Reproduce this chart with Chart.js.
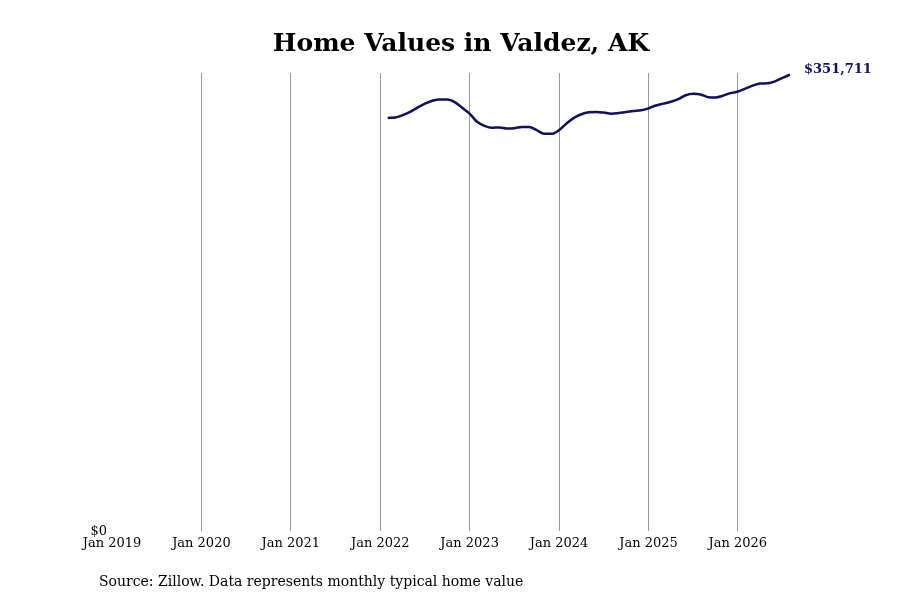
<!DOCTYPE html><html><head><script src="https://cdn.jsdelivr.net/npm/chart.js@4"></script>
<style>body{margin:0;background:#fff}#w{width:900px;height:600px}</style></head><body><div id="w"><canvas id="c"></canvas></div>
<script>
const months=[37,38,39,40,41,42,43,44,45,46,47,48,49,50,51,52,53,54,55,56,57,58,59,60,61,62,63,64,65,66,67,68,69,70,71,72,73,74,75,76,77,78,79,80,81,82,83,84,85,86,87,88,89,90,91];
const values=[318400,318700,320500,323000,326300,329400,331600,332600,332600,330600,326300,321700,315400,312300,310800,311100,310300,310500,311500,311500,309000,306200,306200,309000,314100,318400,321200,322700,323000,322500,321700,322200,323000,323700,324300,325800,328000,329400,330900,332900,335900,337000,336500,334400,334200,335500,337500,338700,341000,343300,344900,345100,346600,349200,351711];
const yearLabels=['Jan 2019','Jan 2020','Jan 2021','Jan 2022','Jan 2023','Jan 2024','Jan 2025','Jan 2026'];
const title='Home Values in Valdez, AK';
const source='Source: Zillow. Data represents monthly typical home value';
const pts=months.map((m,i)=>({x:m,y:values[i]}));
const txt={id:'txt',afterDraw(c){const g=c.ctx,a=c.chartArea,y=c.scales.y,x=c.scales.x;g.save();
g.fillStyle='#000';g.font='bold 25px "DejaVu Serif"';g.textAlign='center';g.textBaseline='middle';g.fillText(title,461,44);
g.font='14px "DejaVu Serif"';g.textAlign='left';g.fillText(source,99,582);
g.font='13px "DejaVu Serif"';g.textAlign='right';g.fillText('$0',a.left-5,y.getPixelForValue(0));
const l=values.length-1;g.fillStyle='#10105e';g.font='bold 13px "DejaVu Serif"';g.textAlign='left';
g.fillText('$'+values[l].toLocaleString('en-US'),x.getPixelForValue(months[l])+14,y.getPixelForValue(values[l])-5);g.restore();}};
new Chart(document.getElementById('c'),{type:'line',data:{datasets:[{data:pts,borderColor:'#10105e',borderWidth:2.5,pointRadius:0,tension:0.4,cubicInterpolationMode:'monotone'}]},
options:{responsive:true,maintainAspectRatio:false,animation:false,layout:{padding:{left:112,right:110,top:73,bottom:45}},
plugins:{legend:{display:false},tooltip:{enabled:false}},
scales:{x:{type:'linear',min:0,max:91,border:{display:false},grid:{drawTicks:false,color:ctx=>ctx.tick&&ctx.tick.value>0?'#999':'rgba(0,0,0,0)',lineWidth:1},
ticks:{stepSize:12,autoSkip:false,maxRotation:0,padding:4,color:'#000',font:{family:'DejaVu Serif',size:13},callback:v=>yearLabels[v/12]||''},afterBuildTicks:s=>{s.ticks=yearLabels.map((_,i)=>({value:i*12}));}},
y:{display:false,min:0,max:353000}}},plugins:[txt]});
</script></body></html>
